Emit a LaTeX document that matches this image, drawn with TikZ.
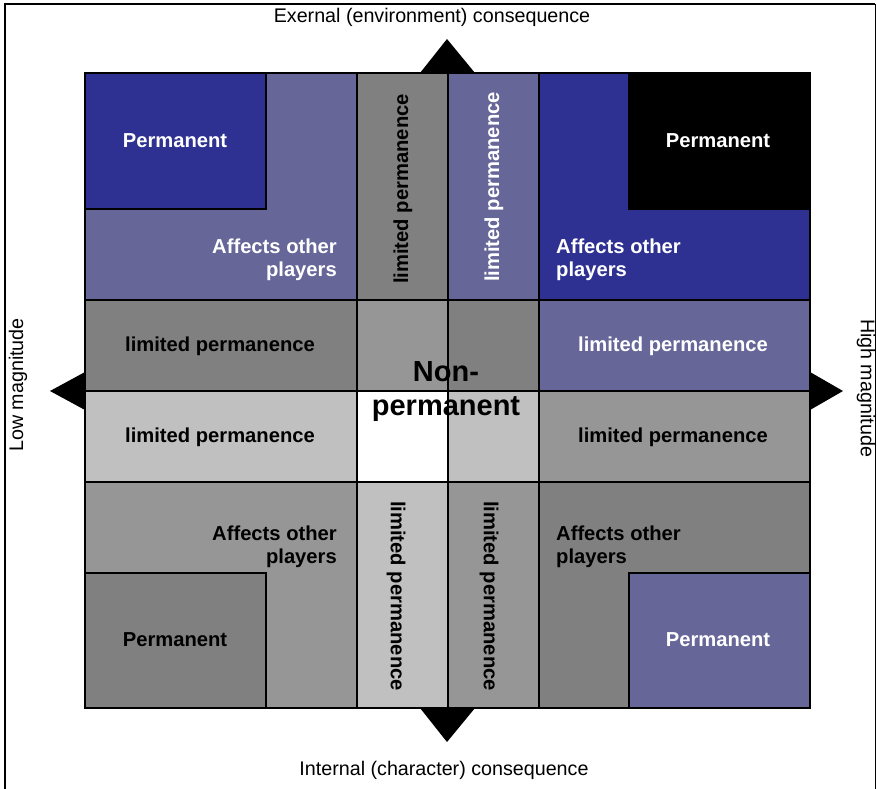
\documentclass[tikz,border=0pt]{standalone}
\usepackage{fontspec}
\setmainfont{Liberation Sans}
\definecolor{darkblue}{HTML}{2E3192}
\definecolor{bluegray}{HTML}{666699}
\definecolor{grayA}{HTML}{808080}
\definecolor{grayB}{HTML}{969696}
\definecolor{grayC}{HTML}{C0C0C0}

\begin{document}
\begin{tikzpicture}[x=1pt,y=-1pt,
  cell/.style={draw=black, line width=1.5pt},
  lbl/.style={font=\bfseries\fontsize{20.2}{23}\selectfont, inner sep=0pt},
  axislbl/.style={font=\fontsize{19.7}{23}\selectfont, inner sep=0pt}]

\useasboundingbox (0,0) rectangle (877,788);

% Frame
\draw[line width=1.5pt] (5,800) -- (5,4) -- (875,4);
\draw[line width=1pt] (875,4) -- (875,800);

% Axis arrow heads
\fill (420,73) -- (447,39) -- (475,73) -- cycle;
\fill (420,708) -- (447,742) -- (475,708) -- cycle;
\fill (85,372) -- (50,391) -- (85,410) -- cycle;
\fill (810,372) -- (843,391) -- (810,410) -- cycle;

% Top-left quadrant
\draw[cell, fill=bluegray] (85,73) rectangle (357,300);
\draw[cell, fill=darkblue] (85,73) rectangle (266,209);
% Top centre columns
\draw[cell, fill=grayA] (357,73) rectangle (448,300);
\draw[cell, fill=bluegray] (448,73) rectangle (539,300);
% Top-right quadrant
\draw[cell, fill=darkblue] (539,73) rectangle (810,300);
\draw[cell, fill=black] (629,73) rectangle (810,209);

% Middle rows
\draw[cell, fill=grayA] (85,300) rectangle (357,391);
\draw[cell, fill=grayB] (357,300) rectangle (448,391);
\draw[cell, fill=grayA] (448,300) rectangle (539,391);
\draw[cell, fill=bluegray] (539,300) rectangle (810,391);
\draw[cell, fill=grayC] (85,391) rectangle (357,482);
\draw[cell, fill=white] (357,391) rectangle (448,482);
\draw[cell, fill=grayC] (448,391) rectangle (539,482);
\draw[cell, fill=grayB] (539,391) rectangle (810,482);

% Bottom-left quadrant
\draw[cell, fill=grayB] (85,482) rectangle (357,708);
\draw[cell, fill=grayA] (85,573) rectangle (266,708);
% Bottom centre columns
\draw[cell, fill=grayC] (357,482) rectangle (448,708);
\draw[cell, fill=grayB] (448,482) rectangle (539,708);
% Bottom-right quadrant
\draw[cell, fill=grayA] (539,482) rectangle (810,708);
\draw[cell, fill=bluegray] (629,573) rectangle (810,708);

% Quadrant labels
\node[lbl, text=white] (permTL) at (175,141) {Permanent};
\node[lbl, text=white] (permTR) at (718,141) {Permanent};
\node[lbl] (permBL) at (175,640) {Permanent};
\node[lbl, text=white] (permBR) at (718,640) {Permanent};
\node[lbl, text=white, anchor=east, align=right] (affTL) at (337,260) {Affects other\\players};
\node[lbl, text=white, anchor=west, align=left] (affTR) at (556,260) {Affects other\\players};
\node[lbl, anchor=east, align=right] (affBL) at (337,547) {Affects other\\players};
\node[lbl, anchor=west, align=left] (affBR) at (556,547) {Affects other\\players};

% Limited permanence
\node[lbl] (limL1) at (220,346.5) {limited permanence};
\node[lbl, text=white] (limR1) at (673,346.5) {limited permanence};
\node[lbl] (limL2) at (220,437.5) {limited permanence};
\node[lbl] (limR2) at (673,437.5) {limited permanence};
\node[lbl, rotate=90] (limT1) at (403,189) {limited permanence};
\node[lbl, rotate=90, text=white] (limT2) at (494,187) {limited permanence};
\node[lbl, rotate=-90] (limB1) at (396,596) {limited permanence};
\node[lbl, rotate=-90] (limB2) at (489,596) {limited permanence};

% Centre
\node[lbl, font=\bfseries\fontsize{29}{34}\selectfont, align=center] (nonperm) at (446,392) {Non-\\permanent};

% Axis labels
\node[axislbl] (ext) at (432,17) {Exernal (environment) consequence};
\node[axislbl] (int) at (444,770) {Internal (character) consequence};
\node[axislbl, rotate=90] (low) at (18,385) {Low magnitude};
\node[axislbl, rotate=-90] (high) at (866,388) {High magnitude};

\end{tikzpicture}
\end{document}
